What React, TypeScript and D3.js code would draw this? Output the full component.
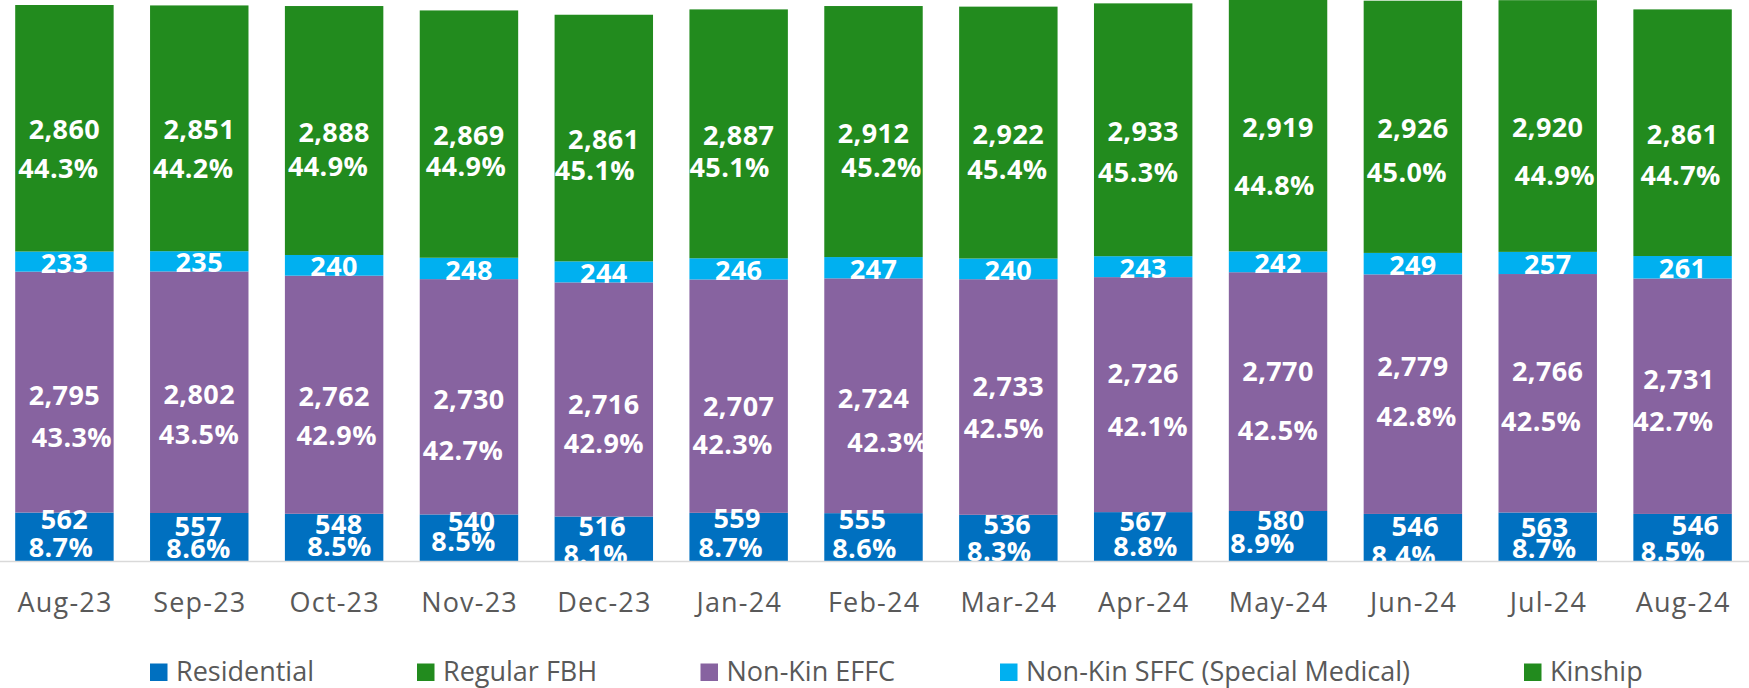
import React from "react";
import * as d3 from "d3";

// ---- data ----
const months = ["Aug-23","Sep-23","Oct-23","Nov-23","Dec-23","Jan-24","Feb-24","Mar-24","Apr-24","May-24","Jun-24","Jul-24","Aug-24"];
const residential = [562,557,548,540,516,559,555,536,567,580,546,563,546];
const regularFBH = [0,0,0,0,0,0,0,0,0,0,0,0,0];
const nonKinEFFC = [2795,2802,2762,2730,2716,2707,2724,2733,2726,2770,2779,2766,2731];
const nonKinSFFC = [233,235,240,248,244,246,247,240,243,242,249,257,261];
const kinship = [2860,2851,2888,2869,2861,2887,2912,2922,2933,2919,2926,2920,2861];

const seriesNames = ["Residential","Regular FBH","Non-Kin EFFC","Non-Kin SFFC (Special Medical)","Kinship"];
const seriesKeys = ["res","fbh","effc","sffc","kin"];
const seriesColors = ["#0070C0","#228B1E","#8763A0","#00B0F0","#228B1E"];

// ---- label nudges (layout, px) ----
const kinPctDx = [-6,-6,-6,-3,-9,-9,8,-1,-5,-3.5,-6,7,-2];
const kinPctDy = [40,40,35.5,32,32,33.5,35.7,37,43,59.4,46,49,42.3];
const effValDx = [0,0,0,0,0,0,0,0,0,0,0,0,-3.7];
const effValDy = [2.9,1.7,1.9,2.2,4.5,10,2.4,-11,-21.3,-20,-27.5,-22.3,-17];
const effPctDx = [7.5,-0.3,2.6,-6,0,-6,14,-4.5,4.7,0,3.8,-6.6,-9.2];
const effPctDy = [45.6,42,40.2,53.2,43.8,47.8,47,31.3,32.1,38.4,22.5,28.4,24.8];
const resValDx = [0,-1,4.7,2.7,-1.5,-1.5,-11,-1,0,2.7,2.4,-3,13];
const resValDy = [-17.6,-11,-13.4,-16.1,-12.3,-18.2,-17.3,-13.7,-15.6,-16,-10.8,-9.8,-12];
const resPctDx = [-3.5,-0.7,5.4,-5.4,-8,-8,-9,-9,2.4,-15.5,-9.2,-3.6,-9.5];
const resPctDy = [11,11.3,9.3,3.9,15.6,10.8,11.7,13.1,10.1,7.3,17.5,11.5,13.5];

const legendX = [150,417,700.5,1000,1524];

const W = 1749, H = 688;
const BASE = 561;
const FONT = "'Open Sans', 'Noto Sans', sans-serif";

export default function App() {
  const rows = months.map((m, i) => ({
    month: m,
    res: residential[i],
    fbh: regularFBH[i],
    effc: nonKinEFFC[i],
    sffc: nonKinSFFC[i],
    kin: kinship[i],
  }));
  const stack = d3.stack<any>().keys(seriesKeys)(rows);

  const x = d3.scaleBand<string>()
    .domain(months)
    .range([-3, 1750])
    .paddingInner(0.27)
    .paddingOuter(0.135);
  const y = d3.scaleLinear().domain([0, 6508]).range([BASE, 0]);

  const totals = rows.map((r) => r.res + r.fbh + r.effc + r.sffc + r.kin);
  const fmt = d3.format(",");
  const pct = (v: number, i: number) => (v / totals[i] * 100).toFixed(1) + "%";

  const LFS = 27;
  const off = LFS * 0.357;

  const labels: any[] = [];
  months.forEach((m, i) => {
    const cx = (x(m) as number) + x.bandwidth() / 2;
    const seg = (k: number) => {
      const s = stack[k][i];
      return (y(s[0]) + y(s[1])) / 2;
    };
    const cRes = seg(0), cEff = seg(2), cSf = seg(3), cKin = seg(4);
    labels.push({ t: fmt(kinship[i]), x: cx, y: cKin + 1.5 });
    labels.push({ t: pct(kinship[i], i), x: cx + kinPctDx[i], y: cKin + kinPctDy[i] });
    labels.push({ t: fmt(nonKinSFFC[i]), x: cx, y: cSf + 1.5 });
    labels.push({ t: fmt(nonKinEFFC[i]), x: cx + effValDx[i], y: cEff + effValDy[i] });
    labels.push({ t: pct(nonKinEFFC[i], i), x: cx + effPctDx[i], y: cEff + effPctDy[i] });
    labels.push({ t: fmt(residential[i]), x: cx + resValDx[i], y: cRes + resValDy[i] });
    labels.push({ t: pct(residential[i], i), x: cx + resPctDx[i], y: cRes + resPctDy[i] });
  });

  return (
    <svg width={W} height={H} style={{ position: "absolute", left: 0, top: 0, background: "#fff" }}>
      <defs>
        <clipPath id="plot">
          <rect x={0} y={0} width={W} height={BASE} />
        </clipPath>
      </defs>
      <g clipPath="url(#plot)">
        {stack.map((s, k) =>
          s.map((d, i) => {
            const h = y(d[0]) - y(d[1]);
            if (h <= 0) return null;
            return (
              <rect
                key={k + "-" + i}
                x={x(months[i])}
                y={y(d[1])}
                width={x.bandwidth()}
                height={h}
                fill={seriesColors[k]}
              />
            );
          })
        )}
        {labels.map((l, j) => (
          <text
            key={j}
            x={l.x}
            y={l.y + off}
            textAnchor="middle"
            fill="#fff"
            fontFamily={FONT}
            fontWeight={700}
            fontSize={LFS}
            letterSpacing={0.4}
          >
            {l.t}
          </text>
        ))}
      </g>
      <line x1={0} x2={W} y1={BASE + 0.5} y2={BASE + 0.5} stroke="#D9D9D9" strokeWidth={1.5} />
      {months.map((m) => (
        <text
          key={m}
          x={(x(m) as number) + x.bandwidth() / 2 + 0.6}
          y={611.5}
          textAnchor="middle"
          fill="#595959"
          fontFamily={FONT}
          fontSize={27}
          letterSpacing={1.2}
        >
          {m}
        </text>
      ))}
      {seriesNames.map((n, k) => (
        <g key={n}>
          <rect x={legendX[k]} y={663.5} width={17.5} height={17.5} fill={seriesColors[k]} />
          <text x={legendX[k] + 26} y={681} fill="#595959" fontFamily={FONT} fontSize={27}>
            {n}
          </text>
        </g>
      ))}
    </svg>
  );
}
